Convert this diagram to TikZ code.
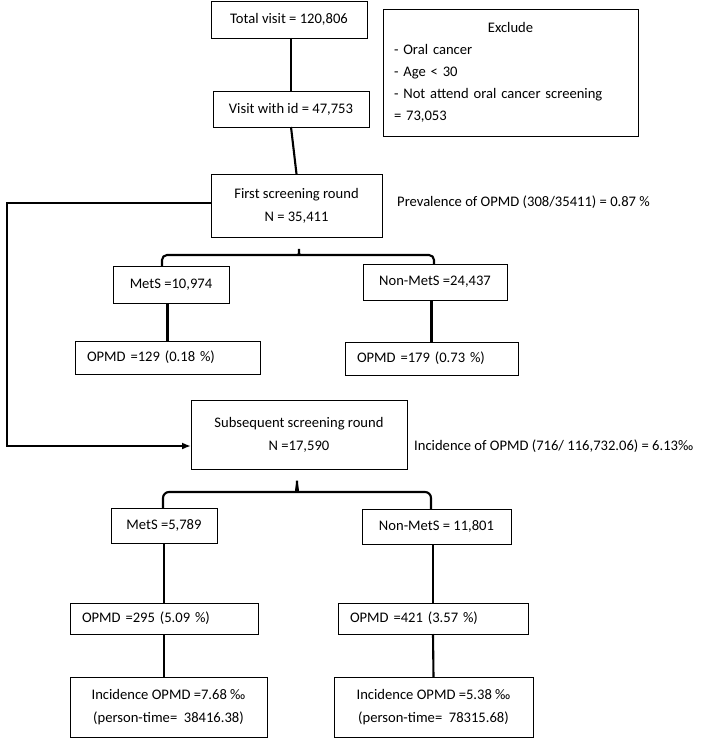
\documentclass[tikz,border=0pt]{standalone}
\usepackage{fontspec}
\setmainfont{Carlito}
\usetikzlibrary{arrows.meta}

\tikzset{
  box/.style={draw, line width=0.9bp, inner sep=0pt, outer sep=0pt, align=center,
    font=\fontsize{14.6bp}{23bp}\selectfont},
  lbox/.style={box, align=left, inner xsep=12bp},
  note/.style={inner sep=0pt, font=\fontsize{14.6bp}{18bp}\selectfont},
  link/.style={line width=2.1bp},
}

\begin{document}
\begin{tikzpicture}[x=1bp, y=-1bp]
    \useasboundingbox (0,0) rectangle (728,744);

    % Top of the flow
    \node[box, minimum width=156bp, minimum height=37bp] (total) at (289,19.5) {Total visit = 120,806};
    \node[box, minimum width=255bp, minimum height=127bp, align=left, text width=233bp,
          font=\fontsize{14.6bp}{22bp}\selectfont] (exclude) at (510.5,72.5)
        {\makebox[233bp]{Exclude}\\- Oral cancer\\- Age < 30\\- Not attend oral cancer screening\\= 73,053};
    \node[box, minimum width=156bp, minimum height=36bp] (visit) at (291,109) {Visit with id = 47,753};

    % First screening round
    \node[box, minimum width=171bp, minimum height=63bp] (first) at (296.5,205.5) {First screening round\\N = 35,411};
    \node[note, anchor=west] (prev) at (397,202) {Prevalence of OPMD (308/35411) = 0.87 \%};
    \node[box, minimum width=116bp, minimum height=37bp] (mets1) at (171,284.5) {MetS =10,974};
    \node[box, minimum width=144bp, minimum height=36bp] (nonmets1) at (435,282) {Non-MetS =24,437};
    \node[lbox, text width=161bp, minimum height=33bp] (opmd1) at (167.5,357.5) {OPMD =129 (0.18 \%)};
    \node[lbox, text width=149bp, minimum height=33bp] (opmd2) at (431.5,358.5) {OPMD =179 (0.73 \%)};

    % Subsequent screening round
    \node[box, minimum width=216bp, minimum height=69bp] (subs) at (299,434.5) {Subsequent screening round\\N =17,590};
    \node[note, anchor=west] (inc) at (414,446) {Incidence of OPMD (716/ 116,732.06) = 6.13‰};
    \node[box, minimum width=106bp, minimum height=35bp] (mets2) at (164,525.5) {MetS =5,789};
    \node[box, minimum width=149bp, minimum height=35bp] (nonmets2) at (436.5,526.5) {Non-MetS = 11,801};
    \node[lbox, text width=164bp, minimum height=31bp] (opmd3) at (164,618.5) {OPMD =295 (5.09 \%)};
    \node[lbox, text width=166bp, minimum height=31bp] (opmd4) at (433,618.5) {OPMD =421 (3.57 \%)};
    \node[box, minimum width=197bp, minimum height=60bp] (inc1) at (168.5,707) {Incidence OPMD =7.68 ‰\\(person-time= \ 38416.38)};
    \node[box, minimum width=199bp, minimum height=60bp] (inc2) at (433.5,707) {Incidence OPMD =5.38 ‰\\(person-time= \ 78315.68)};

    % Connectors
    \draw[link] (total.south -| visit) -- (visit.north);
    \draw[link] (visit.south) -- (first.north);

    % Bracket under first round
    \coordinate (tip1) at (299,246);
    \coordinate (bar1) at (299,255);
    \draw[link, rounded corners=5bp] ([xshift=-9bp]mets1.north) |- ([xshift=-4bp]bar1)
        to[out=0, in=-90] (tip1) to[out=-90, in=180] ([xshift=4bp]bar1) -| ([xshift=-1bp]nonmets1.north);
    \draw[link] (opmd1.north |- mets1.south) -- (opmd1.north);
    \draw[link] (opmd2.north |- nonmets1.south) -- (opmd2.north);

    % Loop from first round to subsequent round
    \coordinate (corner) at (7,203);
    \draw[link, -{Latex[length=9bp, width=7bp]}] (first.west |- corner) -- (corner) |- ([yshift=-11.5bp]subs.west);

    % Bracket under subsequent round
    \coordinate (tip2) at (297,477);
    \coordinate (bar2) at (297,492);
    \draw[link, rounded corners=6bp] ([xshift=-1bp]mets2.north) |- ([xshift=-5bp]bar2)
        to[out=0, in=-90] (tip2) to[out=-90, in=180] ([xshift=5bp]bar2) -| ([xshift=-5.5bp]nonmets2.north);
    \draw[link] (mets2.south) -- (opmd3.north);
    \draw[link] (opmd3.south) -- (inc1.north -| opmd3.south);
    \draw[link] (opmd4.north |- nonmets2.south) -- (opmd4.north);
    \draw[link] (opmd4.south) -- (inc2.north);
\end{tikzpicture}
\end{document}
